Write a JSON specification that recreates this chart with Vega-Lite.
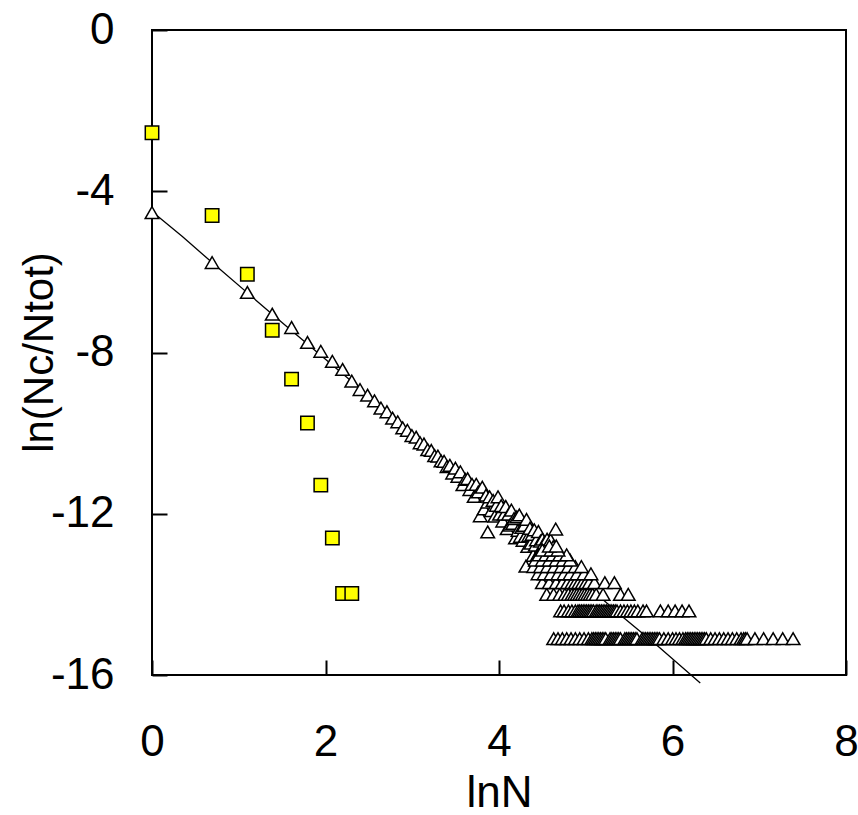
{
  "$schema": "https://vega.github.io/schema/vega-lite/v6.json",
  "width": 694,
  "height": 645,
  "autosize": {"type": "none"},
  "padding": {"left": 152, "top": 30, "right": 12, "bottom": 140},
  "background": "white",
  "config": {
    "view": {"stroke": "black", "strokeWidth": 2},
    "axis": {
      "grid": false,
      "labelFont": "Liberation Sans",
      "labelFontSize": 44,
      "labelColor": "black",
      "labelFlush": false,
      "labelOverlap": false,
      "titleFont": "Liberation Sans",
      "titleFontSize": 44,
      "titleFontWeight": "normal",
      "titleColor": "black"
    }
  },
  "datasets": {
    "fit": [
      {"lnN": 0, "v": -4.5},
      {"lnN": 0.35, "v": -5.12},
      {"lnN": 0.693, "v": -5.77},
      {"lnN": 1.386, "v": -7.05},
      {"lnN": 2.303, "v": -8.72},
      {"lnN": 3.4, "v": -10.8},
      {"lnN": 4.6, "v": -13.0},
      {"lnN": 5.42, "v": -14.55},
      {"lnN": 5.84, "v": -15.3},
      {"lnN": 6.32, "v": -16.2}
    ],
    "sq": [
      {"lnN": 0, "v": -2.55},
      {"lnN": 0.693, "v": -4.6},
      {"lnN": 1.099, "v": -6.06},
      {"lnN": 1.386, "v": -7.45},
      {"lnN": 1.609, "v": -8.66},
      {"lnN": 1.792, "v": -9.75},
      {"lnN": 1.946, "v": -11.29},
      {"lnN": 2.079, "v": -12.6},
      {"lnN": 2.197, "v": -13.98},
      {"lnN": 2.303, "v": -13.98}
    ],
    "tri": [
      {"lnN": 0, "v": -4.53}, {"lnN": 0.693, "v": -5.77}, {"lnN": 1.099, "v": -6.51}, {"lnN": 1.386, "v": -7.05},
      {"lnN": 1.609, "v": -7.38}, {"lnN": 1.792, "v": -7.75}, {"lnN": 1.946, "v": -7.97}, {"lnN": 2.079, "v": -8.22},
      {"lnN": 2.197, "v": -8.42}, {"lnN": 2.303, "v": -8.71}, {"lnN": 2.398, "v": -8.92}, {"lnN": 2.485, "v": -9.06},
      {"lnN": 2.565, "v": -9.2}, {"lnN": 2.639, "v": -9.38}, {"lnN": 2.708, "v": -9.47}, {"lnN": 2.773, "v": -9.63},
      {"lnN": 2.833, "v": -9.72}, {"lnN": 2.89, "v": -9.87}, {"lnN": 2.944, "v": -9.93}, {"lnN": 2.996, "v": -10.06},
      {"lnN": 3.045, "v": -10.1}, {"lnN": 3.091, "v": -10.24}, {"lnN": 3.135, "v": -10.27}, {"lnN": 3.178, "v": -10.41},
      {"lnN": 3.219, "v": -10.43}, {"lnN": 3.258, "v": -10.56}, {"lnN": 3.296, "v": -10.57}, {"lnN": 3.332, "v": -10.69},
      {"lnN": 3.367, "v": -10.7}, {"lnN": 3.401, "v": -10.83}, {"lnN": 3.434, "v": -10.8}, {"lnN": 3.466, "v": -10.99},
      {"lnN": 3.497, "v": -10.87}, {"lnN": 3.526, "v": -11.07}, {"lnN": 3.555, "v": -10.96}, {"lnN": 3.584, "v": -11.28},
      {"lnN": 3.611, "v": -11.15}, {"lnN": 3.638, "v": -11.13}, {"lnN": 3.664, "v": -11.4}, {"lnN": 3.689, "v": -11.27},
      {"lnN": 3.714, "v": -11.57}, {"lnN": 3.738, "v": -11.27}, {"lnN": 3.761, "v": -11.46}, {"lnN": 3.784, "v": -12.05},
      {"lnN": 3.807, "v": -11.34}, {"lnN": 3.829, "v": -11.88}, {"lnN": 3.85, "v": -11.54}, {"lnN": 3.871, "v": -11.71},
      {"lnN": 3.892, "v": -11.58}, {"lnN": 3.912, "v": -11.92}, {"lnN": 3.932, "v": -11.67}, {"lnN": 3.951, "v": -12.06},
      {"lnN": 3.97, "v": -11.79}, {"lnN": 3.989, "v": -11.58}, {"lnN": 4.007, "v": -12.01}, {"lnN": 4.025, "v": -11.8},
      {"lnN": 4.043, "v": -12.18}, {"lnN": 4.06, "v": -12.01}, {"lnN": 4.078, "v": -11.82}, {"lnN": 4.094, "v": -12.37},
      {"lnN": 4.111, "v": -12.01}, {"lnN": 4.127, "v": -12.28}, {"lnN": 4.143, "v": -11.91}, {"lnN": 4.159, "v": -12.24},
      {"lnN": 4.174, "v": -12.12}, {"lnN": 4.19, "v": -12.6}, {"lnN": 4.205, "v": -12.08}, {"lnN": 4.22, "v": -12.41},
      {"lnN": 4.234, "v": -12.03}, {"lnN": 4.248, "v": -12.56}, {"lnN": 4.263, "v": -12.34}, {"lnN": 4.277, "v": -12.66},
      {"lnN": 4.29, "v": -12.29}, {"lnN": 4.304, "v": -12.56}, {"lnN": 4.317, "v": -12.14}, {"lnN": 4.331, "v": -12.81},
      {"lnN": 4.344, "v": -12.54}, {"lnN": 4.357, "v": -12.36}, {"lnN": 4.369, "v": -12.73}, {"lnN": 4.382, "v": -12.51},
      {"lnN": 4.394, "v": -13.03}, {"lnN": 4.407, "v": -12.4}, {"lnN": 4.419, "v": -12.78}, {"lnN": 4.431, "v": -12.65},
      {"lnN": 4.443, "v": -13.02}, {"lnN": 4.454, "v": -12.44}, {"lnN": 4.466, "v": -12.96}, {"lnN": 4.477, "v": -12.68},
      {"lnN": 4.489, "v": -13.15}, {"lnN": 4.5, "v": -12.63}, {"lnN": 4.511, "v": -12.95}, {"lnN": 4.522, "v": -12.72},
      {"lnN": 4.533, "v": -13.29}, {"lnN": 4.543, "v": -12.85}, {"lnN": 4.554, "v": -12.63}, {"lnN": 4.564, "v": -13.19},
      {"lnN": 4.575, "v": -12.86}, {"lnN": 4.585, "v": -13.13}, {"lnN": 4.595, "v": -12.65}, {"lnN": 4.605, "v": -13.22},
      {"lnN": 4.625, "v": -12.82}, {"lnN": 4.654, "v": -12.38}, {"lnN": 4.31, "v": -13.3}, {"lnN": 3.87, "v": -12.45},

      {"lnN": 4.63, "v": -15.1}, {"lnN": 4.68, "v": -15.1}, {"lnN": 4.73, "v": -15.1}, {"lnN": 4.78, "v": -15.1},
      {"lnN": 4.83, "v": -15.1}, {"lnN": 4.88, "v": -15.1}, {"lnN": 4.93, "v": -15.1}, {"lnN": 4.98, "v": -15.1},
      {"lnN": 5.03, "v": -15.1}, {"lnN": 5.07, "v": -15.1}, {"lnN": 5.09, "v": -15.1}, {"lnN": 5.11, "v": -15.1},
      {"lnN": 5.13, "v": -15.1}, {"lnN": 5.15, "v": -15.1}, {"lnN": 5.17, "v": -15.1}, {"lnN": 5.19, "v": -15.1},
      {"lnN": 5.21, "v": -15.1}, {"lnN": 5.23, "v": -15.1}, {"lnN": 5.28, "v": -15.1}, {"lnN": 5.3, "v": -15.1},
      {"lnN": 5.32, "v": -15.1}, {"lnN": 5.34, "v": -15.1}, {"lnN": 5.36, "v": -15.1}, {"lnN": 5.38, "v": -15.1},
      {"lnN": 5.4, "v": -15.1}, {"lnN": 5.45, "v": -15.1}, {"lnN": 5.47, "v": -15.1}, {"lnN": 5.49, "v": -15.1},
      {"lnN": 5.51, "v": -15.1}, {"lnN": 5.53, "v": -15.1}, {"lnN": 5.55, "v": -15.1}, {"lnN": 5.57, "v": -15.1},
      {"lnN": 5.59, "v": -15.1}, {"lnN": 5.65, "v": -15.1}, {"lnN": 5.67, "v": -15.1}, {"lnN": 5.69, "v": -15.1},
      {"lnN": 5.71, "v": -15.1}, {"lnN": 5.73, "v": -15.1}, {"lnN": 5.75, "v": -15.1}, {"lnN": 5.77, "v": -15.1},
      {"lnN": 5.79, "v": -15.1}, {"lnN": 5.81, "v": -15.1}, {"lnN": 5.83, "v": -15.1}, {"lnN": 5.85, "v": -15.1},
      {"lnN": 5.9, "v": -15.1}, {"lnN": 5.95, "v": -15.1}, {"lnN": 6.0, "v": -15.1}, {"lnN": 6.04, "v": -15.1},
      {"lnN": 6.08, "v": -15.1}, {"lnN": 6.12, "v": -15.1}, {"lnN": 6.15, "v": -15.1}, {"lnN": 6.17, "v": -15.1},
      {"lnN": 6.19, "v": -15.1}, {"lnN": 6.21, "v": -15.1}, {"lnN": 6.23, "v": -15.1}, {"lnN": 6.25, "v": -15.1},
      {"lnN": 6.27, "v": -15.1}, {"lnN": 6.29, "v": -15.1}, {"lnN": 6.31, "v": -15.1}, {"lnN": 6.33, "v": -15.1},
      {"lnN": 6.35, "v": -15.1}, {"lnN": 6.37, "v": -15.1}, {"lnN": 6.39, "v": -15.1}, {"lnN": 6.44, "v": -15.1},
      {"lnN": 6.49, "v": -15.1}, {"lnN": 6.54, "v": -15.1}, {"lnN": 6.59, "v": -15.1}, {"lnN": 6.64, "v": -15.1},
      {"lnN": 6.69, "v": -15.1}, {"lnN": 6.74, "v": -15.1}, {"lnN": 6.79, "v": -15.1}, {"lnN": 6.82, "v": -15.1},
      {"lnN": 6.84, "v": -15.1}, {"lnN": 6.86, "v": -15.1}, {"lnN": 6.95, "v": -15.1}, {"lnN": 7.05, "v": -15.1},
      {"lnN": 7.16, "v": -15.1}, {"lnN": 7.27, "v": -15.1}, {"lnN": 7.39, "v": -15.1},

      {"lnN": 4.71, "v": -14.41}, {"lnN": 4.75, "v": -14.41}, {"lnN": 4.8, "v": -14.41}, {"lnN": 4.84, "v": -14.41},
      {"lnN": 4.88, "v": -14.41}, {"lnN": 4.91, "v": -14.41}, {"lnN": 4.93, "v": -14.41}, {"lnN": 4.95, "v": -14.41},
      {"lnN": 4.97, "v": -14.41}, {"lnN": 4.99, "v": -14.41}, {"lnN": 5.01, "v": -14.41}, {"lnN": 5.03, "v": -14.41},
      {"lnN": 5.05, "v": -14.41}, {"lnN": 5.07, "v": -14.41}, {"lnN": 5.09, "v": -14.41}, {"lnN": 5.12, "v": -14.41},
      {"lnN": 5.14, "v": -14.41}, {"lnN": 5.16, "v": -14.41}, {"lnN": 5.18, "v": -14.41}, {"lnN": 5.2, "v": -14.41},
      {"lnN": 5.22, "v": -14.41}, {"lnN": 5.24, "v": -14.41}, {"lnN": 5.26, "v": -14.41}, {"lnN": 5.28, "v": -14.41},
      {"lnN": 5.3, "v": -14.41}, {"lnN": 5.32, "v": -14.41}, {"lnN": 5.34, "v": -14.41}, {"lnN": 5.36, "v": -14.41},
      {"lnN": 5.4, "v": -14.41}, {"lnN": 5.44, "v": -14.41}, {"lnN": 5.48, "v": -14.41}, {"lnN": 5.52, "v": -14.41},
      {"lnN": 5.56, "v": -14.41}, {"lnN": 5.6, "v": -14.41}, {"lnN": 5.66, "v": -14.41}, {"lnN": 5.7, "v": -14.41},
      {"lnN": 5.86, "v": -14.41}, {"lnN": 5.95, "v": -14.41}, {"lnN": 6.03, "v": -14.41}, {"lnN": 6.11, "v": -14.41},
      {"lnN": 6.19, "v": -14.41},

      {"lnN": 4.55, "v": -14.0}, {"lnN": 4.63, "v": -14.0}, {"lnN": 4.7, "v": -14.0}, {"lnN": 4.76, "v": -14.0},
      {"lnN": 4.8, "v": -14.0}, {"lnN": 4.84, "v": -14.0}, {"lnN": 4.87, "v": -14.0}, {"lnN": 4.9, "v": -14.0},
      {"lnN": 4.93, "v": -14.0}, {"lnN": 4.96, "v": -14.0}, {"lnN": 4.99, "v": -14.0}, {"lnN": 5.02, "v": -14.0},
      {"lnN": 5.05, "v": -14.0}, {"lnN": 5.08, "v": -14.0}, {"lnN": 5.12, "v": -14.0}, {"lnN": 5.2, "v": -14.0},
      {"lnN": 5.4, "v": -14.0}, {"lnN": 5.49, "v": -14.0},

      {"lnN": 4.5, "v": -13.71}, {"lnN": 4.58, "v": -13.71}, {"lnN": 4.66, "v": -13.71}, {"lnN": 4.73, "v": -13.71},
      {"lnN": 4.79, "v": -13.71}, {"lnN": 4.84, "v": -13.71}, {"lnN": 4.88, "v": -13.71}, {"lnN": 4.92, "v": -13.71},
      {"lnN": 4.96, "v": -13.71}, {"lnN": 5.0, "v": -13.71}, {"lnN": 5.04, "v": -13.71}, {"lnN": 5.1, "v": -13.71},
      {"lnN": 5.22, "v": -13.71}, {"lnN": 5.33, "v": -13.71},

      {"lnN": 4.45, "v": -13.49}, {"lnN": 4.52, "v": -13.49}, {"lnN": 4.6, "v": -13.49}, {"lnN": 4.68, "v": -13.49},
      {"lnN": 4.75, "v": -13.49}, {"lnN": 4.82, "v": -13.49}, {"lnN": 4.9, "v": -13.49}, {"lnN": 4.98, "v": -13.49},
      {"lnN": 5.06, "v": -13.49},

      {"lnN": 4.4, "v": -13.31}, {"lnN": 4.48, "v": -13.31}, {"lnN": 4.56, "v": -13.31}, {"lnN": 4.64, "v": -13.31},
      {"lnN": 4.72, "v": -13.31}, {"lnN": 4.8, "v": -13.31}, {"lnN": 4.88, "v": -13.31}, {"lnN": 4.95, "v": -13.31},

      {"lnN": 4.42, "v": -13.15}, {"lnN": 4.5, "v": -13.15}, {"lnN": 4.58, "v": -13.15}, {"lnN": 4.66, "v": -13.15},
      {"lnN": 4.74, "v": -13.15}, {"lnN": 4.82, "v": -13.15},

      {"lnN": 4.46, "v": -13.02}, {"lnN": 4.54, "v": -13.02}, {"lnN": 4.62, "v": -13.02}, {"lnN": 4.7, "v": -13.02},
      {"lnN": 4.78, "v": -13.02},

      {"lnN": 4.5, "v": -12.9}, {"lnN": 4.6, "v": -12.9}, {"lnN": 4.68, "v": -12.9},
      {"lnN": 4.58, "v": -12.8}, {"lnN": 4.66, "v": -12.8}
    ]
  },
  "layer": [
    {
      "data": {"name": "fit"},
      "mark": {"type": "line", "color": "black", "strokeWidth": 1.3},
      "encoding": {
        "x": {
          "field": "lnN", "type": "quantitative",
          "scale": {"domain": [0, 8], "nice": false, "zero": false},
          "axis": {
            "title": "lnN",
            "values": [0, 2, 4, 6, 8],
            "labelExpr": "'' + datum.value",
            "domain": false,
            "offset": -15,
            "ticks": true,
            "tickSize": 15,
            "tickWidth": 2,
            "tickColor": "black",
            "labelPadding": 45,
            "titleX": 347,
            "titleY": 146,
            "titleBaseline": "alphabetic",
            "titleAlign": "center"
          }
        },
        "y": {
          "field": "v", "type": "quantitative",
          "scale": {"domain": [-16, 0], "nice": false, "zero": false},
          "axis": {
            "title": "ln(Nc/Ntot)",
            "values": [0, -4, -8, -12, -16],
            "labelExpr": "'' + datum.value",
            "domain": false,
            "offset": -15,
            "ticks": true,
            "tickSize": 15,
            "tickWidth": 2,
            "tickColor": "black",
            "labelPadding": 38,
            "titleAngle": -90,
            "titleX": -115,
            "titleY": 322,
            "titleBaseline": "alphabetic",
            "titleAlign": "center",
            "titleFontSize": 42
          }
        }
      }
    },
    {
      "data": {"name": "tri"},
      "mark": {"type": "point", "shape": "triangle-up", "filled": true, "fill": "white", "stroke": "black", "strokeWidth": 1.5, "size": 185, "opacity": 1},
      "encoding": {
        "x": {"field": "lnN", "type": "quantitative"},
        "y": {"field": "v", "type": "quantitative"}
      }
    },
    {
      "data": {"name": "sq"},
      "mark": {"type": "point", "shape": "square", "filled": true, "fill": "#FFFF00", "stroke": "black", "strokeWidth": 1.5, "size": 180, "opacity": 1},
      "encoding": {
        "x": {"field": "lnN", "type": "quantitative"},
        "y": {"field": "v", "type": "quantitative"}
      }
    }
  ]
}
